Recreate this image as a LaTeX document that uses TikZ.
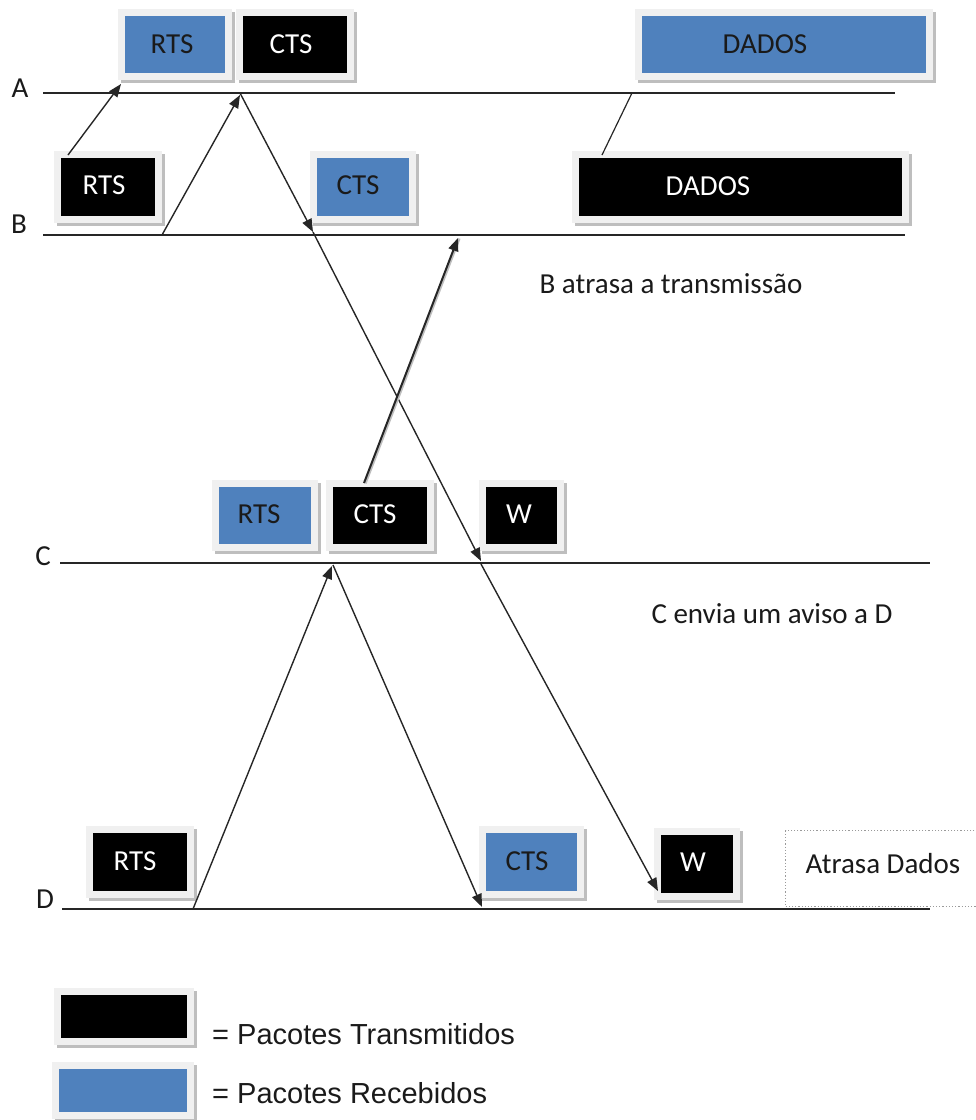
\documentclass[tikz,border=0pt]{standalone}
\usepackage{fontspec}
\setmainfont{Carlito}
\newfontfamily\legendfont{Liberation Sans}
\usetikzlibrary{arrows.meta}

\definecolor{pktblue}{HTML}{4F81BD}
\definecolor{framegrey}{HTML}{F0F0F0}
\definecolor{shadegrey}{HTML}{BEBEBE}
\definecolor{dotgrey}{HTML}{9A9A9A}
\definecolor{linegrey}{HTML}{262626}
\definecolor{inkdark}{HTML}{1A1A1A}

\tikzset{
  pkt/.style={draw=framegrey, line width=7pt, inner sep=0pt, outer sep=0pt,
    preaction={draw=shadegrey, line width=7pt,
      transform canvas={xshift=2.5pt, yshift=-3pt}}},
  sent/.style={pkt, fill=black},
  recv/.style={pkt, fill=pktblue},
  wlabel/.style={anchor=base, inner sep=0pt, text=white,
    font=\fontsize{29}{32}\selectfont},
  blabel/.style={anchor=base, inner sep=0pt, text=inkdark,
    font=\fontsize{29}{32}\selectfont},
  note/.style={anchor=base, inner sep=0pt, text=inkdark,
    font=\fontsize{29}{32}\selectfont},
  legtext/.style={anchor=base west, inner sep=0pt, text=inkdark,
    font=\legendfont\fontsize{29}{32}\selectfont},
  timeline/.style={draw=linegrey, line width=2pt},
  sig/.style={draw=linegrey, line width=1.4pt,
    -{Triangle[length=13pt, width=10pt]}},
}

\begin{document}
\begin{tikzpicture}[x=1pt, y=-1pt]
\useasboundingbox (0,0) rectangle (976,1120);

% ---- timelines -------------------------------------------------------
\node[note, anchor=base] (labA) at (20,97) {A};
\node[note, anchor=base] (labB) at (19,233) {B};
\node[note, anchor=base] (labC) at (43,565) {C};
\node[note, anchor=base] (labD) at (45,908) {D};

\coordinate (A0) at (43,93);  \coordinate (A1) at (895,93);
\coordinate (B0) at (43,235); \coordinate (B1) at (905,235);
\coordinate (C0) at (60,563); \coordinate (C1) at (930,563);
\coordinate (D0) at (62,909); \coordinate (D1) at (930,909);
\draw[timeline] (A0) -- (A1);
\draw[timeline] (B0) -- (B1);
\draw[timeline] (C0) -- (C1);
\draw[timeline] (D0) -- (D1);

% ---- packets: node A ---------------------------------------------------
\node[recv, minimum width=107pt, minimum height=64pt] (aRTS) at (175,44.5) {};
\node[sent, minimum width=111pt, minimum height=64pt] (aCTS) at (295,44.5) {};
\node[recv, minimum width=291pt, minimum height=64pt] (aDATA) at (784,44.5) {};
\node[blabel] (taRTS) at (172,53) {RTS};
\node[wlabel] (taCTS) at (291,53) {CTS};
\node[blabel] (taDATA) at (765,53) {DADOS};

% ---- packets: node B ---------------------------------------------------
\node[sent, minimum width=101pt, minimum height=65pt] (bRTS) at (108,187) {};
\node[recv, minimum width=99pt, minimum height=65pt] (bCTS) at (363,187) {};
\node[sent, minimum width=330pt, minimum height=65pt] (bDATA) at (740.5,187) {};
\node[wlabel] (tbRTS) at (104,194) {RTS};
\node[blabel] (tbCTS) at (358,194) {CTS};
\node[wlabel] (tbDATA) at (708,195) {DADOS};

% ---- packets: node C ---------------------------------------------------
\node[recv, minimum width=99pt, minimum height=64pt] (cRTS) at (265,515.5) {};
\node[sent, minimum width=101pt, minimum height=64pt] (cCTS) at (380,515.5) {};
\node[sent, minimum width=78pt, minimum height=64pt] (cW) at (521.5,515.5) {};
\node[blabel] (tcRTS) at (259,523) {RTS};
\node[wlabel] (tcCTS) at (375,523) {CTS};
\node[wlabel] (tcW) at (519,523) {W};

% ---- packets: node D ---------------------------------------------------
\node[sent, minimum width=101pt, minimum height=65pt] (dRTS) at (140,862) {};
\node[recv, minimum width=98pt, minimum height=65pt] (dCTS) at (531.5,862) {};
\node[sent, minimum width=79pt, minimum height=65pt] (dW) at (697,864) {};
\node[wlabel] (tdRTS) at (135,870) {RTS};
\node[blabel] (tdCTS) at (527,870) {CTS};
\node[wlabel] (tdW) at (693,871) {W};

% ---- remarks -----------------------------------------------------------
\node[note] (nB) at (671,293) {B atrasa a transmissão};
\node[note] (nC) at (772,623) {C envia um aviso a D};
\node[draw=dotgrey, dotted, line width=1.2pt, minimum width=210pt,
      minimum height=76pt, inner sep=0pt, anchor=north west] (delay) at (785,830) {};
\node[note] (tdelay) at (883,873) {Atrasa Dados};

% ---- signal end points -------------------------------------------------
\coordinate (s1a) at (68,155);   \coordinate (s1b) at (121,84);
\coordinate (s2a) at (162,235);  \coordinate (s2b) at (240,95);
\coordinate (s3a) at (240,93);   \coordinate (s3b) at (313,232);
\coordinate (s3c) at (481,561);
\coordinate (s4a) at (364,483);  \coordinate (s4b) at (458,238);
\coordinate (s5a) at (193,909);  \coordinate (s5b) at (332,566);
\coordinate (s6a) at (333,565);  \coordinate (s6b) at (482,907);
\coordinate (s7a) at (481,564);  \coordinate (s7b) at (658,891);
\coordinate (s8a) at (632,93);   \coordinate (s8b) at (602,155);

% ---- signals -----------------------------------------------------------
\draw[sig] (s1a) -- (s1b);
\draw[sig] (s2a) -- (s2b);
\draw[sig] (s3a) -- (s3b);
\draw[sig] (s3b) -- (s3c);
\draw[draw=shadegrey, line width=2.2pt, transform canvas={xshift=1.5pt, yshift=-0.5pt}]
  (s4a) -- (s4b);
\draw[sig, line width=2pt] (s4a) -- (s4b);
\draw[sig] (s5a) -- (s5b);
\draw[sig] (s6a) -- (s6b);
\draw[sig] (s7a) -- (s7b);
\draw[draw=linegrey, line width=1.2pt] (s8a) -- (s8b);

% ---- legend ------------------------------------------------------------
\node[sent, minimum width=133pt, minimum height=50pt] (legT) at (124,1016.5) {};
\node[recv, minimum width=135pt, minimum height=50pt] (legR) at (123,1090.5) {};
\node[legtext] (tlegT) at (212,1044) {= Pacotes Transmitidos};
\node[legtext] (tlegR) at (212,1103) {= Pacotes Recebidos};
\end{tikzpicture}
\end{document}
